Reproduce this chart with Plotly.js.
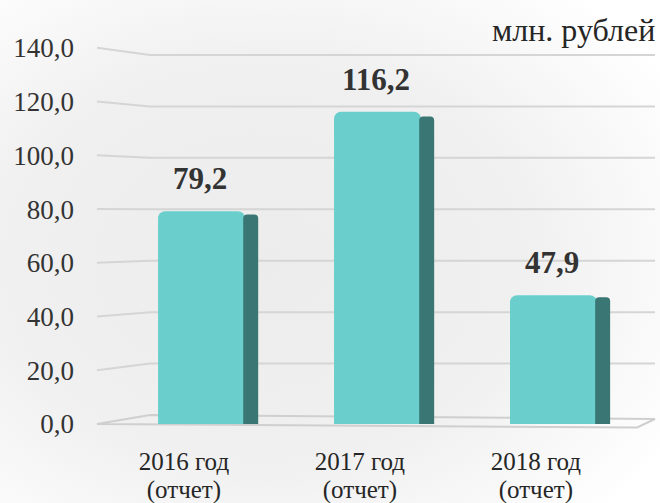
<!DOCTYPE html>
<html>
<head>
<meta charset="utf-8">
<script src="https://cdn.plot.ly/plotly-3.0.1.min.js"></script>
<style>
html,body{margin:0;padding:0;background:#fff;}
#chart{width:660px;height:503px;}
</style>
</head>
<body>
<div id="chart"></div>
<script>
// ---- data ----
const yearLabels = ['2016 год', '2017 год', '2018 год'];
const noteLabels = ['(отчет)', '(отчет)', '(отчет)'];
const values = [79.2, 116.2, 47.9];
const yTickValues = [0, 20, 40, 60, 80, 100, 120, 140];
const unitLabel = 'млн. рублей';

// ---- helpers ----
const fmt = v => v.toFixed(1).replace('.', ',');
const xs = values.map((v, i) => i);
const serif = 'Liberation Serif';

const backY = v => 3.35 + 0.957 * v;
const kinkX = 0.095;
const frontW = 0.494, sideW = 0.085;

const traces = [
  {
    type: 'bar', x: xs, y: values, width: frontW,
    marker: {color: '#6acfcc', cornerradius: 7, line: {width: 0}},
    hoverinfo: 'skip', showlegend: false
  },
  {
    type: 'bar', x: xs, y: values.map(v => v * 0.985), width: sideW, offset: frontW / 2 - 0.01,
    marker: {color: '#3a7674', cornerradius: 4, line: {width: 0}},
    hoverinfo: 'skip', showlegend: false
  },
  {
    type: 'scatter', x: xs, y: values.map(() => null), xaxis: 'x2', yaxis: 'y',
    hoverinfo: 'skip', showlegend: false
  }
];

const shapes = [];
yTickValues.forEach(v => {
  if (v === 0) return;
  shapes.push({
    type: 'path', xref: 'paper', yref: 'y', layer: 'below',
    path: `M 0 ${v} L ${kinkX} ${backY(v)} L 1 ${backY(v)}`,
    line: {color: '#d5d5d5', width: 2}
  });
});
shapes.push({
  type: 'path', xref: 'paper', yref: 'y', layer: 'below',
  path: `M 0 0 L 0.968 -1.3 L 1 ${backY(0) - 1.5} L ${kinkX} ${backY(0)} Z`,
  line: {color: '#cfcfcf', width: 2}, fillcolor: 'rgba(0,0,0,0)'
});

const annotations = values.map((v, i) => ({
  x: i - 0.01, y: v, xref: 'x', yref: 'y', text: '<b>' + fmt(v) + '</b>',
  showarrow: false, yanchor: 'bottom', yshift: 13,
  font: {family: serif, size: 31, color: '#333333'}
}));
annotations.push({
  xref: 'paper', yref: 'paper', x: 1, y: 1 + (14 - 30) / 426, xanchor: 'right', yanchor: 'middle',
  xshift: 2, text: unitLabel, showarrow: false,
  font: {family: serif, size: 32, color: '#262626'}
});

const bgSvg = '<svg xmlns="http://www.w3.org/2000/svg" width="660" height="503">' +
  '<defs><radialGradient id="g" cx="40%" cy="52%" r="72%">' +
  '<stop offset="0%" stop-color="#ececec"/><stop offset="55%" stop-color="#f0f0f0"/>' +
  '<stop offset="100%" stop-color="#ffffff"/></radialGradient></defs>' +
  '<rect width="660" height="503" fill="url(#g)"/></svg>';

const layout = {
  width: 660, height: 503,
  margin: {l: 97, r: 5, t: 14, b: 63},
  paper_bgcolor: '#ffffff', plot_bgcolor: 'rgba(0,0,0,0)',
  barmode: 'overlay',
  showlegend: false,
  font: {family: serif},
  xaxis: {
    range: [-0.594, 2.577], showgrid: false, zeroline: false, showline: false,
    tickmode: 'array', tickvals: xs.map(i => i - 0.1), ticktext: yearLabels,
    ticks: '', ticklabelstandoff: 4,
    tickfont: {family: serif, size: 25, color: '#262626'}
  },
  xaxis2: {
    overlaying: 'x', matches: 'x', side: 'bottom', anchor: 'y',
    range: [-0.594, 2.577], showgrid: false, zeroline: false, showline: false,
    tickmode: 'array', tickvals: xs.map(i => i - 0.1), ticktext: noteLabels,
    ticks: '', ticklabelstandoff: 32,
    tickfont: {family: serif, size: 25, color: '#262626'}
  },
  yaxis: {
    range: [-5.96, 152.6], showgrid: false, zeroline: false, showline: false,
    tickmode: 'array', tickvals: yTickValues, ticktext: yTickValues.map(fmt),
    ticks: '', ticklabelstandoff: 22,
    tickfont: {family: serif, size: 27, color: '#333333'}
  },
  shapes: shapes,
  annotations: annotations,
  images: [{
    source: 'data:image/svg+xml;charset=utf-8,' + encodeURIComponent(bgSvg),
    xref: 'paper', yref: 'paper', x: -97 / 558, y: 1 + 14 / 426,
    sizex: 660 / 558, sizey: 503 / 426, sizing: 'stretch', layer: 'below',
    xanchor: 'left', yanchor: 'top'
  }]
};

Plotly.newPlot('chart', traces, layout, {staticPlot: true, displayModeBar: false});
</script>
</body>
</html>
